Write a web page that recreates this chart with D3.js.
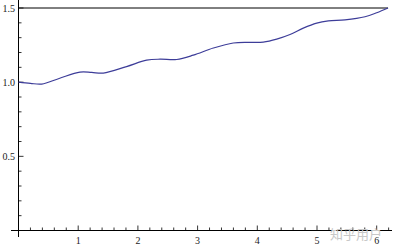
<!DOCTYPE html>
<html lang="en">
<head>
  <meta charset="UTF-8">
  <title>Curve plot</title>
  <script src="https://d3js.org/d3.v7.min.js"></script>
  <style>
    body { margin: 0; background: #fff; }
  </style>
</head>
<body>
  <div id="chart"></div>
  <script>
    // Values
    var xs = [0, 0.2, 0.389, 0.68, 1.03, 1.226, 1.42, 1.81, 2.147, 2.37, 2.65, 2.928, 3.263, 3.598, 3.878, 4.10, 4.325, 4.548, 4.77, 4.995, 5.19, 5.469, 5.804, 6.0, 6.19];
    var ys = [1.0, 0.992, 0.987, 1.025, 1.068, 1.066, 1.061, 1.105, 1.148, 1.155, 1.153, 1.182, 1.230, 1.264, 1.268, 1.270, 1.290, 1.321, 1.364, 1.398, 1.413, 1.420, 1.441, 1.468, 1.5];
    var capX = [0, 6.19];
    var capY = [1.5, 1.5];
    var xTicks = [1, 2, 3, 4, 5, 6];
    var yTicks = [0.5, 1.0, 1.5];

    var W = 396, H = 250;

    var svg = d3.select("#chart")
      .append("svg")
        .attr("width", W)
        .attr("height", H);

    // scales
    var x = d3.scaleLinear().domain([0, 6]).range([18.5, 376.7]);
    var y = d3.scaleLinear().domain([0, 1.5]).range([230.5, 8]);

    var axisColor = "#000";
    var labelFont = "'Liberation Serif', 'Times New Roman', serif";

    // x axis line
    svg.append("line")
      .attr("x1", 11).attr("x2", 392)
      .attr("y1", y(0)).attr("y2", y(0))
      .attr("stroke", axisColor).attr("stroke-width", 1);

    // y axis line
    svg.append("line")
      .attr("x1", x(0)).attr("x2", x(0))
      .attr("y1", 237).attr("y2", 0)
      .attr("stroke", axisColor).attr("stroke-width", 1);

    // x ticks (minor every 0.2, major on integers)
    var xMinor = d3.range(0.2, 6.3, 0.2);
    svg.selectAll(".xt")
      .data(xMinor)
      .enter()
      .append("line")
        .attr("x1", function(d) { return x(d); })
        .attr("x2", function(d) { return x(d); })
        .attr("y1", y(0))
        .attr("y2", function(d) { return Math.abs(d - Math.round(d)) < 1e-6 ? y(0) - 5 : y(0) - 3; })
        .attr("stroke", axisColor).attr("stroke-width", 0.8);

    svg.selectAll(".xl")
      .data(xTicks)
      .enter()
      .append("text")
        .attr("x", function(d) { return x(d); })
        .attr("y", 243.5)
        .attr("text-anchor", "middle")
        .style("font-family", labelFont)
        .style("font-size", "10px")
        .style("fill", "#222")
        .text(function(d) { return d; });

    // y ticks (minor every 0.1, major on 0.5)
    var yMinor = d3.range(0.1, 1.51, 0.1);
    svg.selectAll(".yt")
      .data(yMinor)
      .enter()
      .append("line")
        .attr("x1", x(0))
        .attr("x2", function(d) { return Math.abs(d * 2 - Math.round(d * 2)) < 1e-6 ? x(0) + 5 : x(0) + 3; })
        .attr("y1", function(d) { return y(d); })
        .attr("y2", function(d) { return y(d); })
        .attr("stroke", axisColor).attr("stroke-width", 0.8);

    svg.selectAll(".yl")
      .data(yTicks)
      .enter()
      .append("text")
        .attr("x", 15)
        .attr("y", function(d) { return y(d) + 3.5; })
        .attr("text-anchor", "end")
        .style("font-family", labelFont)
        .style("font-size", "10px")
        .style("fill", "#222")
        .text(function(d) { return d.toFixed(1); });

    // horizontal line at 1.5
    var capLine = d3.line()
      .x(function(d) { return x(d[0]); })
      .y(function(d) { return y(d[1]); });
    svg.append("path")
      .attr("d", capLine(d3.zip(capX, capY)))
      .attr("fill", "none")
      .attr("stroke", "#000")
      .attr("stroke-width", 1);

    // the curve
    var curve = d3.line()
      .x(function(d) { return x(d[0]); })
      .y(function(d) { return y(d[1]); })
      .curve(d3.curveCatmullRom);
    svg.append("path")
      .attr("d", curve(d3.zip(xs, ys)))
      .attr("fill", "none")
      .attr("stroke", "#3d3d99")
      .attr("stroke-width", 1.2);

    // watermark
    svg.append("text")
      .attr("x", 330)
      .attr("y", 239)
      .style("font-family", "'Noto Sans CJK SC', sans-serif")
      .style("font-size", "13px")
      .style("fill", "#c8c8c8")
      .text("知乎用户");
  </script>
</body>
</html>
